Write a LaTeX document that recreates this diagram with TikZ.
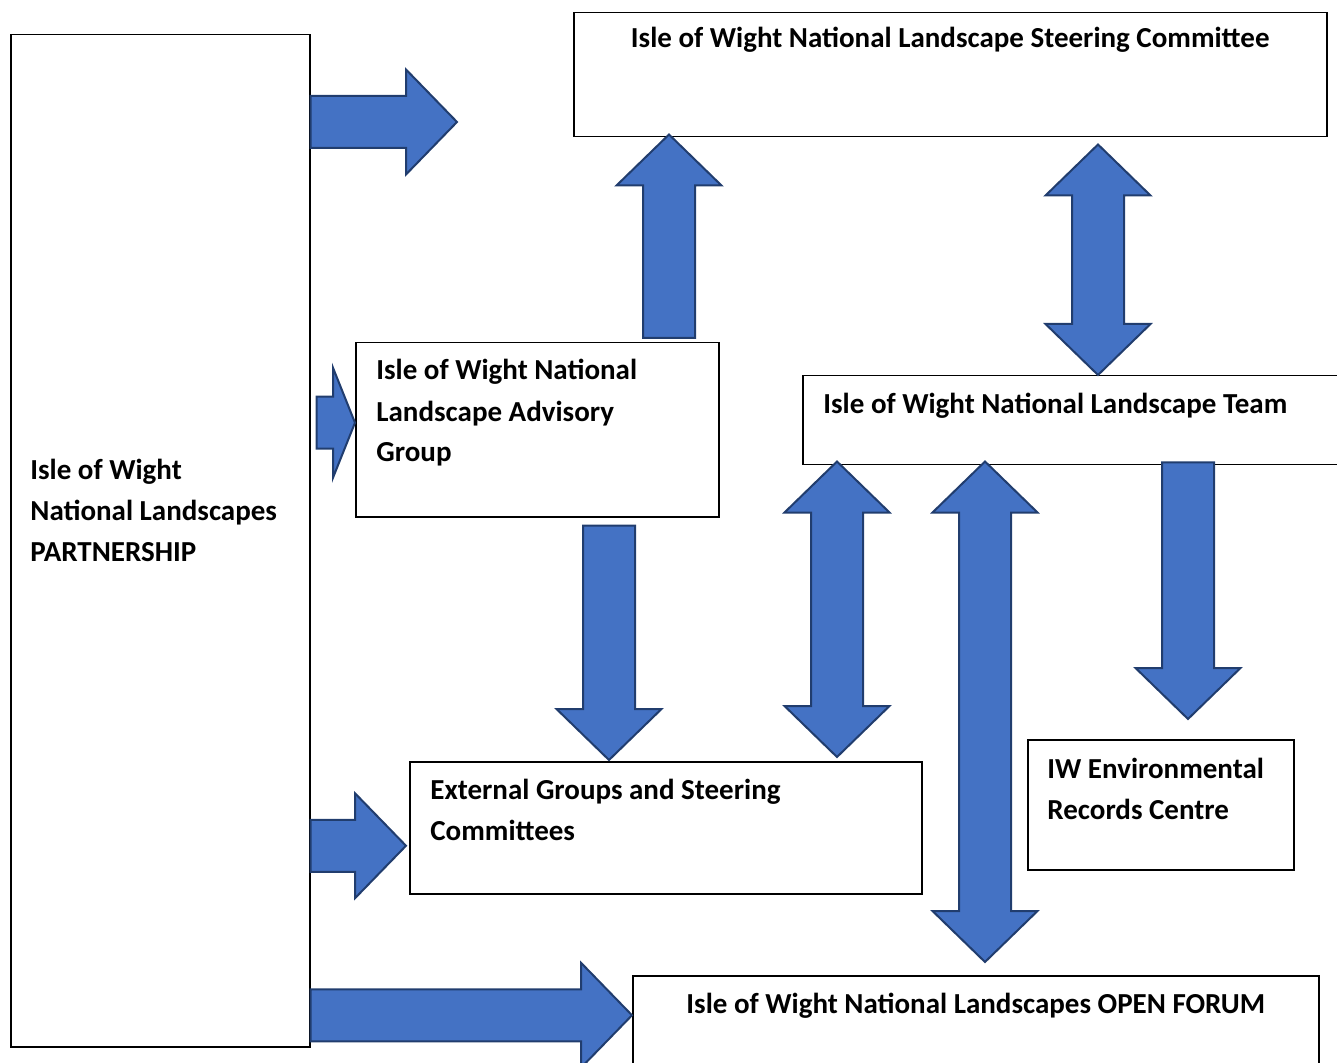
\documentclass[tikz,border=0pt]{standalone}
\usepackage{fontspec}
\setmainfont{Carlito}
\usetikzlibrary{calc}

\definecolor{arrowblue}{HTML}{4472C4}
\definecolor{arrowedge}{HTML}{213D6E}

% shaft half width, head half width, head length
\def\sw{13pt}
\def\hw{26.25pt}
\def\hl{25.5pt}

\newcommand{\blockarrow}[2]{%
  \draw[barrow] let \p1=(#1), \p2=(#2), \n1={veclen(\x2-\x1,\y2-\y1)}, \n2={atan2(\y2-\y1,\x2-\x1)} in
    [shift={(\p1)}, rotate=\n2] (0pt,-\sw) -- ({\n1-\hl},-\sw) -- ({\n1-\hl},-\hw) -- ({\n1+0pt},0pt)
    -- ({\n1-\hl},\hw) -- ({\n1-\hl},\sw) -- (0pt,\sw) -- cycle;}
\newcommand{\dblockarrow}[2]{%
  \draw[barrow] let \p1=(#1), \p2=(#2), \n1={veclen(\x2-\x1,\y2-\y1)}, \n2={atan2(\y2-\y1,\x2-\x1)} in
    [shift={(\p1)}, rotate=\n2] (0pt,0pt) -- (\hl,\hw) -- (\hl,\sw) -- ({\n1-\hl},\sw) -- ({\n1-\hl},\hw)
    -- ({\n1+0pt},0pt) -- ({\n1-\hl},-\hw) -- ({\n1-\hl},-\sw) -- (\hl,-\sw) -- (\hl,-\hw) -- cycle;}

\begin{document}
\begin{tikzpicture}[x=0.5pt, y=-0.5pt,
  box/.style={draw, line width=0.75pt, anchor=north west, inner sep=0pt},
  txt/.style={font=\bfseries\fontsize{14.5}{20.5}\selectfont, align=left, inner sep=0pt},
  barrow/.style={fill=arrowblue, draw=arrowedge, line width=1pt}]
  \useasboundingbox (0,0) rectangle (1337,1063);

  \node[box, minimum width=149.5pt, minimum height=506pt] (partner) at (10,34) {};
  \node[box, minimum width=376.5pt, minimum height=62pt] (steer) at (573,12) {};
  \node[box, minimum width=181.5pt, minimum height=87pt] (adv) at (355,342) {};
  \node[box, minimum width=271.5pt, minimum height=44.5pt] (team) at (802,375) {};
  \node[box, minimum width=256pt, minimum height=66pt] (ext) at (409,761) {};
  \node[box, minimum width=133pt, minimum height=65pt] (erc) at (1027,739) {};
  \node[box, minimum width=343pt, minimum height=47.5pt] (forum) at (632,975) {};

  % base anchor sits on the last line
  \node[txt, anchor=base west] (partnertxt) at ([shift={(20,527)}]partner.north west)
    {Isle of Wight\\National Landscapes\\PARTNERSHIP};
  \node[txt, anchor=base] (steertxt) at ([shift={(0,36)}]steer.north)
    {Isle of Wight National Landscape Steering Committee};
  \node[txt, anchor=base west] (advtxt) at ([shift={(21,120)}]adv.north west)
    {Isle of Wight National\\Landscape Advisory\\Group};
  \node[txt, anchor=base west] (teamtxt) at ([shift={(21,39)}]team.north west)
    {Isle of Wight National Landscape Team};
  \node[txt, anchor=base west] (exttxt) at ([shift={(21,79)}]ext.north west)
    {External Groups and Steering\\Committees};
  \node[txt, anchor=base west] (erctxt) at ([shift={(20,80)}]erc.north west)
    {IW Environmental\\Records Centre};
  \node[txt, anchor=base] (forumtxt) at ([shift={(0,38)}]forum.north)
    {Isle of Wight National Landscapes OPEN FORUM};

  % arrow ends
  \coordinate (top) at (457,122);
  \coordinate (advin) at ([yshift=3.5pt]adv.west);
  \coordinate (extin) at ([shift={(-3,18)}]ext.west);
  \coordinate (forin) at ([yshift=4pt]forum.west);
  \coordinate (upx) at (669,0);
  \coordinate (downx) at (609,0);
  \coordinate (stx) at (1098,0);
  \coordinate (extx) at (837,0);
  \coordinate (forx) at (985,0);
  \coordinate (ercx) at (1188,0);

  \blockarrow{partner.east |- top}{top}
  {\def\hw{27.5pt}\def\hl{11pt}
   \blockarrow{[xshift=3pt]partner.east |- advin}{advin}}
  \blockarrow{partner.east |- extin}{extin}
  \blockarrow{partner.east |- forin}{forin}
  \blockarrow{[yshift=2pt]adv.north -| upx}{[yshift=1.5pt]steer.south -| upx}
  \blockarrow{[yshift=-4pt]adv.south -| downx}{[yshift=0.5pt]ext.north -| downx}
  \dblockarrow{[yshift=-3.5pt]steer.south -| stx}{team.north -| stx}
  \dblockarrow{[yshift=2pt]team.south -| extx}{[yshift=2pt]ext.north -| extx}
  \dblockarrow{[yshift=2pt]team.south -| forx}{[yshift=6.5pt]forum.north -| forx}
  \blockarrow{[yshift=1.5pt]team.south -| ercx}{[yshift=10pt]erc.north -| ercx}
\end{tikzpicture}
\end{document}
